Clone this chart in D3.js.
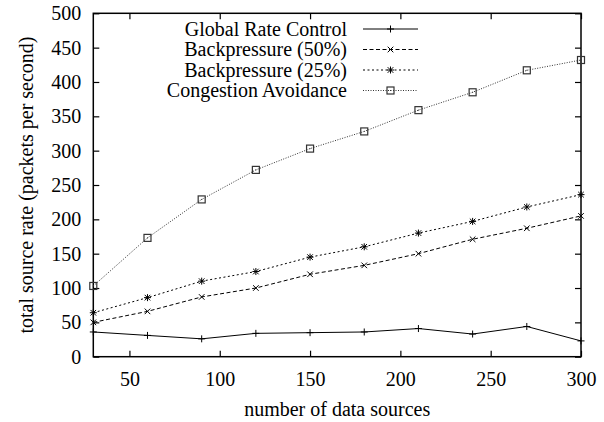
<!DOCTYPE html>
<html><head><meta charset="utf-8">
<script src="https://cdn.jsdelivr.net/npm/d3@7"></script>
<style>body{margin:0;background:#fff}svg{display:block}</style>
</head><body><svg id="c" width="604" height="422"></svg>
<script>
const sources = [30, 60, 90, 120, 150, 180, 210, 240, 270, 300];
const globalRate = [36, 31, 26, 34, 35, 36, 41, 33, 44, 23];
const backpressure50 = [50, 66, 87, 100, 120, 133, 150, 171, 187, 205];
const backpressure25 = [64, 86, 110, 124, 145, 160, 180, 197, 218, 236];
const congestion = [103, 173, 229, 272, 303, 328, 359, 385, 417, 432];
const xTicks = [50, 100, 150, 200, 250, 300];
const yTicks = [0, 50, 100, 150, 200, 250, 300, 350, 400, 450, 500];
const seriesNames = ["Global Rate Control", "Backpressure (50%)", "Backpressure (25%)", "Congestion Avoidance"];

const svg = d3.select("#c");
const L = 93.3, R = 581, T = 13.3, B = 356.7;
const x = d3.scaleLinear().domain([30, 300]).range([L, R]);
const y = d3.scaleLinear().domain([0, 500]).range([B, T]);
const fs = 20;
const FF = "Liberation Serif";

const series = [
  {name: seriesNames[0], vals: globalRate, dash: null, mark: "plus", color: "#000"},
  {name: seriesNames[1], vals: backpressure50, dash: "4,2.5", mark: "cross", color: "#000"},
  {name: seriesNames[2], vals: backpressure25, dash: "2,2.5", mark: "star", color: "#000"},
  {name: seriesNames[3], vals: congestion, dash: "1,1.5", mark: "box", color: "#333"}
];

const tickLen = 6;
const ax = svg.append("g");
ax.append("g").attr("transform", `translate(0,${B})`)
  .call(d3.axisBottom(x).tickValues(xTicks).tickSize(-tickLen).tickPadding(15).tickFormat(d3.format("d")))
  .call(g => g.select(".domain").remove());
ax.append("g").attr("transform", `translate(0,${T})`)
  .call(d3.axisTop(x).tickValues(xTicks).tickSize(-tickLen).tickFormat(""))
  .call(g => g.select(".domain").remove());
ax.append("g").attr("transform", `translate(${L},0)`)
  .call(d3.axisLeft(y).tickValues(yTicks).tickSize(-tickLen).tickPadding(12).tickFormat(d3.format("d")))
  .call(g => g.select(".domain").remove());
ax.append("g").attr("transform", `translate(${R},0)`)
  .call(d3.axisRight(y).tickValues(yTicks).tickSize(-tickLen).tickFormat(""))
  .call(g => g.select(".domain").remove());
ax.selectAll("g").attr("font-family", FF).attr("font-size", fs);
ax.selectAll(".tick line").attr("stroke", "#000").attr("stroke-width", 1.2);
ax.selectAll(".tick text").attr("font-size", fs).attr("font-family", FF).attr("fill", "#000");
ax.append("rect").attr("x", L).attr("y", T).attr("width", R - L).attr("height", B - T)
  .attr("fill", "none").attr("stroke", "#000").attr("stroke-width", 1.5);

function marker(g, cx, cy, type, color) {
  const s = 3.5;
  const p = g.append("g").attr("stroke", color).attr("stroke-width", 1).attr("fill", "none");
  if (type === "plus" || type === "star") {
    p.append("line").attr("x1", cx - s).attr("x2", cx + s).attr("y1", cy).attr("y2", cy);
    p.append("line").attr("x1", cx).attr("x2", cx).attr("y1", cy - s).attr("y2", cy + s);
  }
  if (type === "cross" || type === "star") {
    p.append("line").attr("x1", cx - s * 0.8).attr("x2", cx + s * 0.8).attr("y1", cy - s * 0.8).attr("y2", cy + s * 0.8);
    p.append("line").attr("x1", cx - s * 0.8).attr("x2", cx + s * 0.8).attr("y1", cy + s * 0.8).attr("y2", cy - s * 0.8);
  }
  if (type === "box") {
    p.append("rect").attr("x", cx - s).attr("y", cy - s).attr("width", 2 * s).attr("height", 2 * s).attr("stroke-width", 1.2);
    p.append("rect").attr("x", cx - 0.5).attr("y", cy - 0.5).attr("width", 1).attr("height", 1).attr("fill", color).attr("stroke", "none");
  }
}

const line = d3.line().x(d => x(d[0])).y(d => y(d[1]));
series.forEach(s => {
  const pts = sources.map((v, i) => [v, s.vals[i]]);
  svg.append("path").attr("d", line(pts)).attr("fill", "none").attr("stroke", s.color)
    .attr("stroke-width", 1).attr("stroke-dasharray", s.dash);
  pts.forEach(p => marker(svg, x(p[0]), y(p[1]), s.mark, s.color));
});

const legY = [29, 49.5, 70, 90.5];
const lg = svg.append("g");
series.forEach((s, i) => {
  lg.append("text").attr("x", 347).attr("y", legY[i]).attr("dy", "0.33em")
    .attr("text-anchor", "end").attr("font-size", fs).attr("font-family", FF).text(s.name);
  lg.append("line").attr("x1", 363).attr("x2", 418).attr("y1", legY[i]).attr("y2", legY[i])
    .attr("stroke", s.color).attr("stroke-width", 1).attr("stroke-dasharray", s.dash);
  marker(lg, 390.5, legY[i], s.mark, s.color);
});

svg.append("text").attr("x", (L + R) / 2).attr("y", 416).attr("text-anchor", "middle")
  .attr("font-size", fs).attr("font-family", FF).text("number of data sources");
svg.append("text").attr("transform", `translate(33,185) rotate(-90)`)
  .attr("text-anchor", "middle").attr("font-size", fs).attr("font-family", FF).text("total source rate (packets per second)");
</script></body></html>
